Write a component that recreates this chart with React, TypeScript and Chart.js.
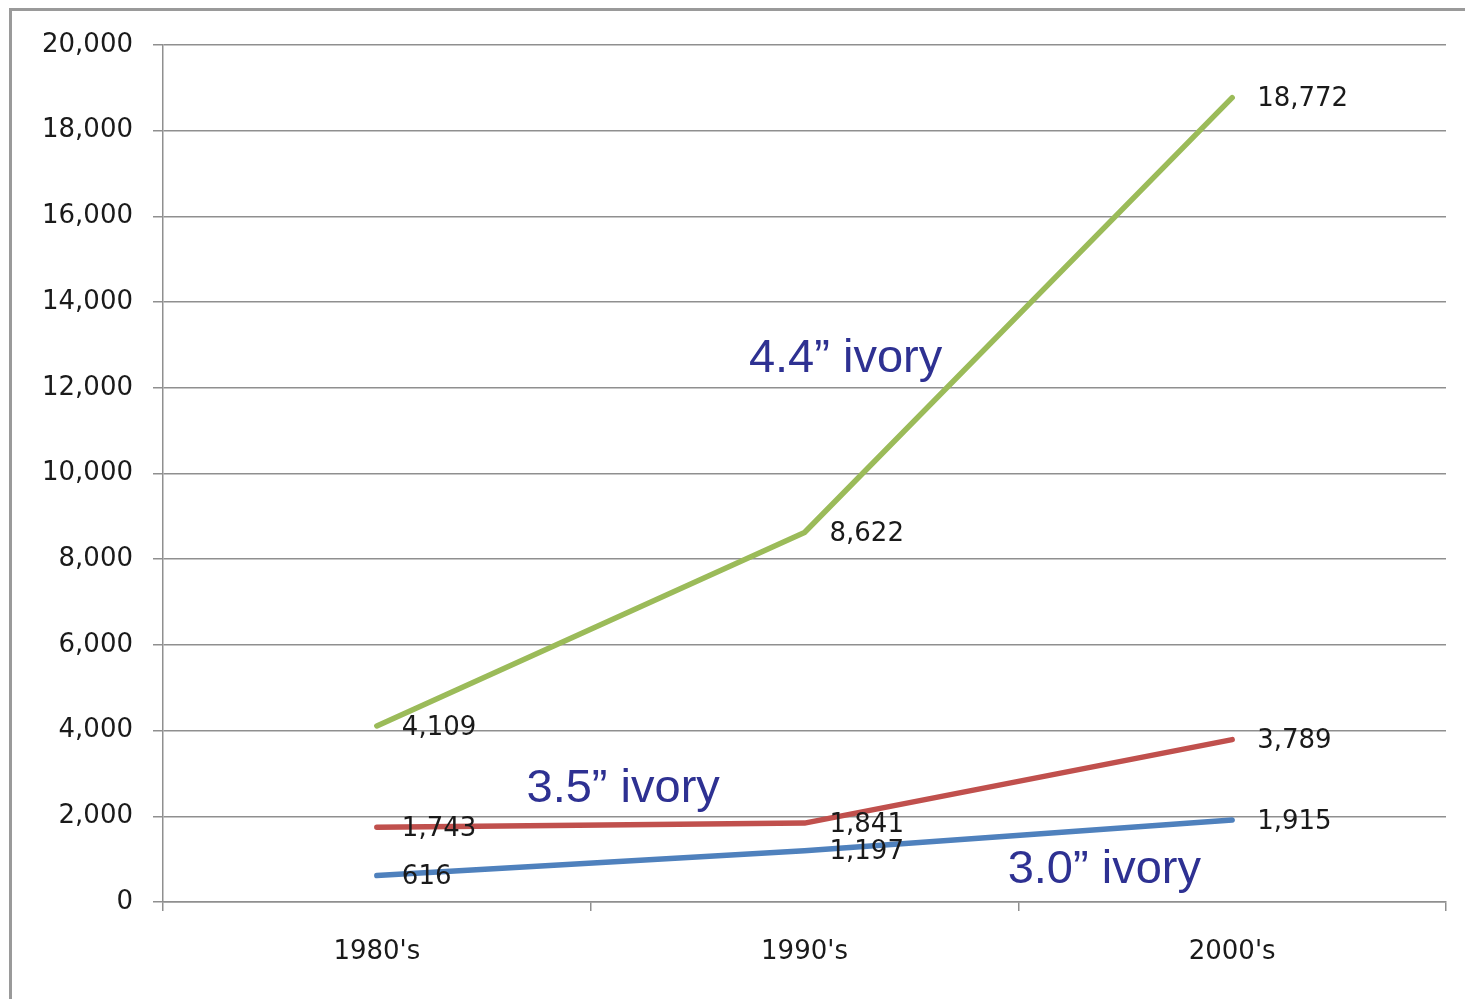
import React, { useEffect, useRef } from "react";
import { Chart, registerables } from "chart.js";

Chart.register(...registerables);

const CATEGORIES = ["1980's", "1990's", "2000's"];
const IVORY_30 = [616, 1197, 1915];
const IVORY_35 = [1743, 1841, 3789];
const IVORY_44 = [4109, 8622, 18772];
const SERIES_NAMES = ["3.0\u201D ivory", "3.5\u201D ivory", "4.4\u201D ivory"];
const SERIES_COLORS = ["#4F81BD", "#C0504D", "#9BBB59"];
const Y_MIN = 0;
const Y_MAX = 20000;
const Y_STEP = 2000;
// annotation anchors in data space: [category index (fractional), value]
const ANNOTATION_X = [1.475, 0.35, 0.87];
const ANNOTATION_Y = [440, 2330, 12370];

const fmt = (v: number) => v.toLocaleString("en-US");

const AXIS_FONT = { family: "'DejaVu Sans'", size: 26 };
const GRID = "#8f8f8f";

const labelsPlugin = {
  id: "valueLabels",
  afterDatasetsDraw(chart: any) {
    const ctx = chart.ctx;
    ctx.save();
    ctx.font = "26px 'DejaVu Sans'";
    ctx.fillStyle = "#1a1a1a";
    ctx.textAlign = "left";
    ctx.textBaseline = "middle";
    chart.data.datasets.forEach((ds: any, di: number) => {
      const meta = chart.getDatasetMeta(di);
      meta.data.forEach((pt: any, i: number) => {
        ctx.fillText(fmt(ds.data[i]), pt.x + 25, pt.y + 2);
      });
    });
    ctx.restore();
  },
};

const annotationPlugin = {
  id: "seriesAnnotations",
  afterDraw(chart: any) {
    const ctx = chart.ctx;
    const xs = chart.scales.x;
    const ys = chart.scales.y;
    ctx.save();
    ctx.font = "47px 'Liberation Sans'";
    ctx.fillStyle = "#2E3192";
    ctx.textAlign = "left";
    ctx.textBaseline = "alphabetic";
    SERIES_NAMES.forEach((name, i) => {
      ctx.fillText(name, xs.getPixelForValue(ANNOTATION_X[i]), ys.getPixelForValue(ANNOTATION_Y[i]));
    });
    ctx.restore();
  },
};

export default function App() {
  const ref = useRef<HTMLCanvasElement>(null);
  useEffect(() => {
    if (!ref.current) return;
    const chart = new Chart(ref.current, {
      type: "line",
      data: {
        labels: CATEGORIES,
        datasets: [IVORY_30, IVORY_35, IVORY_44].map((d, i) => ({
          label: SERIES_NAMES[i],
          data: d,
          borderColor: SERIES_COLORS[i],
          backgroundColor: SERIES_COLORS[i],
          borderWidth: 5.5,
          pointRadius: 0,
          borderCapStyle: "round",
          borderJoinStyle: "round",
          tension: 0,
        })),
      },
      options: {
        animation: false,
        responsive: false,
        devicePixelRatio: 1,
        layout: { padding: { top: 45, right: 19, left: 0, bottom: 0 } },
        plugins: { legend: { display: false }, tooltip: { enabled: false } },
        scales: {
          x: {
            type: "category",
            offset: true,
            grid: {
              offset: true,
              drawOnChartArea: false,
              drawTicks: true,
              tickLength: 9,
              color: GRID,
              lineWidth: 1.5,
            },
            border: { display: true, color: GRID, width: 1.5 },
            ticks: { font: AXIS_FONT, color: "#1a1a1a", padding: 26, maxRotation: 0 },
            afterFit: (s: any) => {
              s.height = 97;
            },
          },
          y: {
            min: Y_MIN,
            max: Y_MAX,
            grid: { color: GRID, lineWidth: 1.5, tickLength: 10, drawTicks: true },
            border: { display: true, color: GRID, width: 1.5 },
            ticks: {
              stepSize: Y_STEP,
              font: AXIS_FONT,
              color: "#1a1a1a",
              padding: 20,
              callback: (v: any) => fmt(Number(v)),
            },
            afterFit: (s: any) => {
              s.width = 163;
            },
          },
        },
      },
      plugins: [labelsPlugin, annotationPlugin],
    } as any);
    return () => chart.destroy();
  }, []);
  return (
    <div style={{ position: "fixed", left: 0, top: 0, width: 1465, height: 999, background: "#fff", overflow: "hidden" }}>
      <div
        style={{
          position: "absolute",
          left: 9,
          top: 8,
          width: 1600,
          height: 1200,
          borderLeft: "3px solid #9a9a9a",
          borderTop: "3px solid #9a9a9a",
        }}
      />
      <canvas ref={ref} width={1465} height={999} style={{ position: "absolute", left: 0, top: 0, width: 1465, height: 999 }} />
    </div>
  );
}
